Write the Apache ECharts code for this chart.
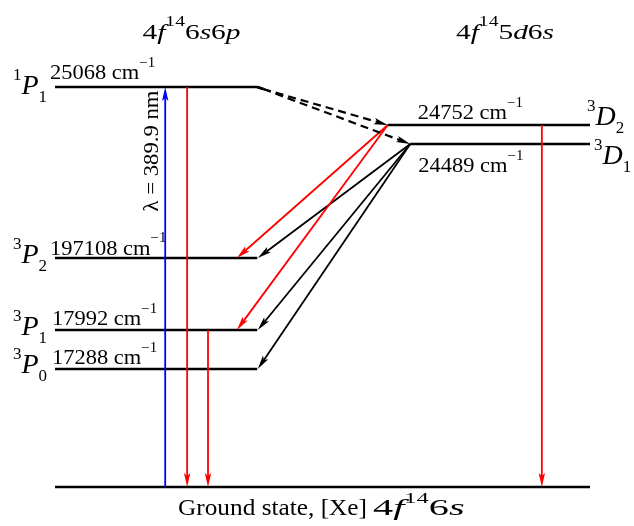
<!DOCTYPE html>
<html>
<head>
<meta charset="utf-8">
<script src="https://cdn.jsdelivr.net/npm/echarts@6/dist/echarts.min.js"></script>
<style>
html,body{margin:0;padding:0;background:#fff;}
#chart{width:634px;height:526px;}
</style>
</head>
<body>
<div id="chart"></div>
<script>
// ---------------- data ----------------
const levelNames  = ['1P1', '3D2', '3D1', '3P2', '3P1', '3P0', 'ground'];
const levelEnergy = [25068, 24752, 24489, 197108, 17992, 17288, 0];   // cm^-1, as printed
const levelHeight = [100, 90.5, 85.75, 57.25, 39.25, 29.5, 0];        // schematic (not to scale) height
const levelFrom   = [0, 62.2, 66.4, 0, 0, 0, 0];                      // diagram x units
const levelTo     = [37.8, 100, 100, 37.8, 37.8, 37.8, 100];

const transFrom = ['ground', '1P1', '3P1', '3D2', '3D1', '3D1', '3D1', '3D2', '3D2', '1P1', '1P1'];
const transTo   = ['1P1', 'ground', 'ground', 'ground', '3P2', '3P1', '3P0', '3P2', '3P1', '3D2', '3D1'];
const transX0   = [20.6, 24.7, 28.6, 91.0, 66.4, 66.4, 66.4, 62.2, 62.2, 37.8, 37.8];
const transX1   = [20.6, 24.7, 28.6, 91.0, 37.9, 37.9, 37.9, 34.0, 34.0, 62.2, 66.4];
const transKind = ['pump', 'emission', 'emission', 'emission', 'cascade', 'cascade', 'cascade', 'emission', 'emission', 'collision', 'collision'];

const pumpLabel = 'λ = 389.9 nm';
const configLeft  = ['4', 'f', '14', '6', 's', '6', 'p'];
const configRight = ['4', 'f', '14', '5', 'd', '6', 's'];
const groundCaption = 'Ground state, [Xe]';
const groundConfig = ['4', 'f', '14', '6', 's'];

// ---------------- styling ----------------
const FAM = "'Liberation Serif', 'Times New Roman', serif";
const kindStyle = {
  pump:      { color: '#0000ff', dash: null },
  emission:  { color: '#ff0000', dash: null },
  cascade:   { color: '#000000', dash: null },
  collision: { color: '#000000', dash: [8, 5] }
};
const li = n => levelNames.indexOf(n);

function tok(size, italic, lh, va) {
  const o = {
    fontFamily: FAM, fontSize: size, fontStyle: italic ? 'italic' : 'normal',
    font: (italic ? 'italic ' : '') + size + 'px ' + FAM,
    color: '#000', fill: '#000'
  };
  if (lh != null) o.lineHeight = lh;
  if (va) o.verticalAlign = va;
  return o;
}

// label placement (pixel offsets from level ends)
const termPos = {
  '1P1': ['from', -8, 0, 'right'], '3P2': ['from', -8, -2, 'right'],
  '3P1': ['from', -8, -2.5, 'right'], '3P0': ['from', -8, -3, 'right'],
  '3D2': ['to', -3, -7, 'left'], '3D1': ['to', 4, 13, 'left']
};
const energyPos = {
  '1P1': ['from', -5, -13.5], '3P2': ['from', -5, -9], '3P1': ['from', -3, -10.5],
  '3P0': ['from', -3, -10.5], '3D2': ['from', 30, -11.5], '3D1': ['from', 8, 22.5]
};

const termRich = { sp: tok(17, false, 17, 'top'), it: tok(28, true, 39, 'middle'), sb: tok(17, false, 17, 'bottom') };
const energyRich = { n: tok(21, false, 35, 'middle'), s: tok(14, false, 14, 'top') };
function makeConfigRich(base, sup, H) {
  return { r: tok(base, false, H, 'middle'), i: tok(base, true, H, 'middle'), sp: tok(sup, false, sup, 'top') };
}
function configText(parts) {
  return parts.map((p, k) => {
    if (k === 2) return '{sp|' + p + '}';
    return /[0-9]/.test(p) ? '{r|' + p + '}' : '{i|' + p + '}';
  }).join('');
}

// labels list
const labelItems = [];
levelNames.forEach((n, i) => {
  if (termPos[n]) {
    const p = termPos[n];
    labelItems.push({
      anchor: [p[0] === 'from' ? levelFrom[i] : levelTo[i], levelHeight[i]],
      dx: p[1], dy: p[2], align: p[3], scaleX: 1, rotation: 0,
      text: '{sp|' + n[0] + '}{it|' + n[1] + '}{sb|' + n.slice(2) + '}', rich: termRich
    });
  }
  if (energyPos[n]) {
    const p = energyPos[n];
    labelItems.push({
      anchor: [p[0] === 'from' ? levelFrom[i] : levelTo[i], levelHeight[i]],
      dx: p[1], dy: p[2], align: 'left', scaleX: 1.07, rotation: 0,
      text: '{n|' + levelEnergy[i] + ' cm}{s|\u22121}', rich: energyRich
    });
  }
});
labelItems.push({
  anchor: [transX1[0], levelHeight[li(transTo[0])]],
  dx: -13, dy: 64, align: 'center', scaleX: 1.08, rotation: Math.PI / 2,
  text: '{n|' + pumpLabel + '}', rich: { n: tok(21, false) }
});

// ---------------- chart ----------------
const chart = echarts.init(document.getElementById('chart'), null, { renderer: 'canvas' });

function arrow(p0, p1, st, kink) {
  const children = [];
  let s = p0;
  if (kink) {
    const k = [p0[0] + 6, p0[1] + 2];
    children.push({ type: 'line', shape: { x1: p0[0], y1: p0[1], x2: k[0], y2: k[1] }, style: { stroke: st.color, lineWidth: 2.4 } });
    s = k;
  }
  const dx = p1[0] - s[0], dy = p1[1] - s[1], len = Math.hypot(dx, dy);
  const ux = dx / len, uy = dy / len, nx = -uy, ny = ux;
  const L = 14, Wd = 3.2, N = 3;
  const base = [p1[0] - ux * L, p1[1] - uy * L];
  const notch = [p1[0] - ux * (L - N), p1[1] - uy * (L - N)];
  children.push({ type: 'line', shape: { x1: s[0], y1: s[1], x2: notch[0], y2: notch[1] },
    style: { stroke: st.color, lineWidth: st.dash ? 2.2 : 1.8, lineDash: st.dash } });
  children.push({ type: 'polygon', shape: { points: [p1, [base[0] + nx * Wd, base[1] + ny * Wd], notch, [base[0] - nx * Wd, base[1] - ny * Wd]] },
    style: { fill: st.color } });
  return { type: 'group', children };
}

function gText(x, y, scaleX, text, rich, align) {
  return { type: 'text', x, y, scaleX,
    style: { text, rich, fontFamily: FAM, fontSize: 22, font: '22px ' + FAM, fill: '#000',
      align, verticalAlign: 'middle', textAlign: align, textVerticalAlign: 'middle' } };
}

const option = {
  animation: false,
  backgroundColor: '#ffffff',
  grid: { left: 55, right: 44, top: 87, bottom: 39 },
  xAxis: { type: 'value', min: 0, max: 100, show: false },
  yAxis: { type: 'value', min: 0, max: 100, show: false },
  graphic: [
    gText(191.5, 33, 1.4, configText(configLeft), makeConfigRich(21, 14, 36), 'center'),
    gText(505, 33, 1.4, configText(configRight), makeConfigRich(21, 14, 36), 'center'),
    gText(367, 508.5, 1.1, '{n|' + groundCaption + '}', { n: tok(23, false) }, 'right'),
    gText(373, 508.5, 1.75, configText(groundConfig), makeConfigRich(23, 14, 33), 'left')
  ],
  series: [
    {
      type: 'custom', name: 'levels', clip: false,
      data: levelNames.map((n, i) => [levelFrom[i], levelTo[i], levelHeight[i]]),
      encode: { x: [0, 1], y: 2 },
      renderItem(params, api) {
        const a = api.coord([api.value(0), api.value(2)]);
        const b = api.coord([api.value(1), api.value(2)]);
        return { type: 'line', shape: { x1: a[0], y1: a[1], x2: b[0], y2: b[1] }, style: { stroke: '#000', lineWidth: 2.5 } };
      }
    },
    {
      type: 'custom', name: 'transitions', clip: false,
      data: transFrom.map((f, i) => [transX0[i], levelHeight[li(f)], transX1[i], levelHeight[li(transTo[i])], i]),
      encode: { x: [0, 2], y: [1, 3] },
      renderItem(params, api) {
        const i = api.value(4);
        const p0 = api.coord([api.value(0), api.value(1)]);
        const p1 = api.coord([api.value(2), api.value(3)]);
        const kind = transKind[i];
        return arrow(p0, p1, kindStyle[kind], kind === 'collision');
      }
    },
    {
      type: 'custom', name: 'labels', clip: false,
      data: labelItems.map((l, i) => [l.anchor[0], l.anchor[1], i]),
      encode: { x: 0, y: 1 },
      renderItem(params, api) {
        const l = labelItems[api.value(2)];
        const p = api.coord([api.value(0), api.value(1)]);
        return {
          type: 'text', x: p[0] + l.dx, y: p[1] + l.dy, scaleX: l.scaleX, rotation: l.rotation,
          style: { text: l.text, rich: l.rich, fill: '#000', fontFamily: FAM, fontSize: 21, font: '21px ' + FAM,
            align: l.align, verticalAlign: 'middle', textAlign: l.align, textVerticalAlign: 'middle' }
        };
      }
    }
  ]
};
chart.setOption(option);
</script>
</body>
</html>
